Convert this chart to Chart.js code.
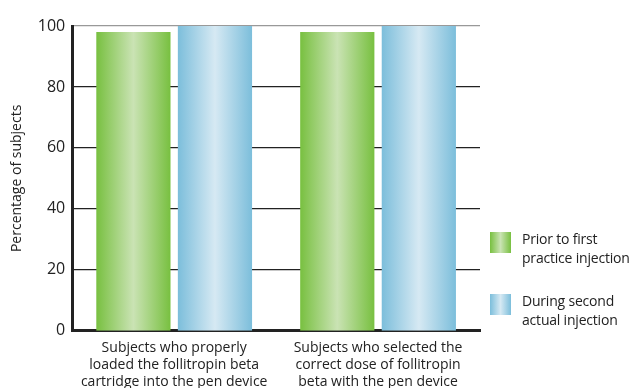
<!DOCTYPE html>
<html>
<head>
<meta charset="utf-8">
<script src="https://cdn.jsdelivr.net/npm/chart.js@4"></script>
<style>
  html, body { margin: 0; padding: 0; background: #fff; }
  #wrap { position: relative; width: 633px; height: 388px; }
  #legend { position: absolute; left: 490px; top: 229px; font-family: "Open Sans", sans-serif; font-size: 14px; color: #222; line-height: 19px; white-space: nowrap; letter-spacing: -0.2px; }
  .item { position: relative; padding-left: 32px; height: 40px; margin-bottom: 22px; }
  .swatch { position: absolute; left: 0; top: 3px; width: 21px; height: 21px; }
</style>
</head>
<body>
<div id="wrap">
  <canvas id="chart" width="633" height="388"></canvas>
  <div id="legend"></div>
</div>
<script>
// Data
const categories = [
  ['Subjects who properly', 'loaded the follitropin beta', 'cartridge into the pen device'],
  ['Subjects who selected the', 'correct dose of follitropin', 'beta with the pen device']
];
const seriesNames = [['Prior to first', 'practice injection'], ['During second', 'actual injection']];
const priorValues = [98, 98];
const duringValues = [100, 100];
const yTicks = [0, 20, 40, 60, 80, 100];

// gradient colours: edge, centre
const palettes = [
  ['#78c040', '#cae3b4'],
  ['#7cbedb', '#d6e9f3']
];

function hGradient(ctx, x0, x1, pal) {
  const g = ctx.createLinearGradient(x0, 0, x1, 0);
  g.addColorStop(0, pal[0]);
  g.addColorStop(0.5, pal[1]);
  g.addColorStop(1, pal[0]);
  return g;
}

// build legend
const legend = document.getElementById('legend');
seriesNames.forEach(function (name, i) {
  const item = document.createElement('div');
  item.className = 'item';
  const sw = document.createElement('div');
  sw.className = 'swatch';
  sw.style.background = 'linear-gradient(to right,' + palettes[i][0] + ',' + palettes[i][1] + ',' + palettes[i][0] + ')';
  item.appendChild(sw);
  item.appendChild(document.createTextNode(name[0]));
  item.appendChild(document.createElement('br'));
  item.appendChild(document.createTextNode(name[1]));
  legend.appendChild(item);
});

// paint each bar with its own horizontal gradient (options objects are shared, so copy them)
const barGradient = {
  id: 'barGradient',
  beforeDatasetsDraw(chart) {
    chart.data.datasets.forEach(function (ds, i) {
      const meta = chart.getDatasetMeta(i);
      meta.data.forEach(function (bar) {
        const half = bar.width / 2;
        bar.options = Object.assign({}, bar.options, {
          backgroundColor: hGradient(chart.ctx, bar.x - half, bar.x + half, palettes[i])
        });
      });
    });
  }
};

const ctx = document.getElementById('chart').getContext('2d');
new Chart(ctx, {
  type: 'bar',
  data: {
    labels: categories,
    datasets: [
      { label: seriesNames[0].join(' '), data: priorValues, backgroundColor: palettes[0][0] },
      { label: seriesNames[1].join(' '), data: duringValues, backgroundColor: palettes[1][0] }
    ]
  },
  options: {
    responsive: false,
    animation: false,
    categoryPercentage: 0.8,
    barPercentage: 0.91,
    layout: { padding: { top: 26, right: 153, left: 4, bottom: -12 } },
    plugins: {
      legend: { display: false },
      tooltip: { enabled: false }
    },
    scales: {
      x: {
        grid: { display: false, drawTicks: false },
        border: { display: true, color: '#222', width: 3 },
        ticks: {
          color: '#222',
          padding: 9,
          maxRotation: 0,
          font: { family: 'Open Sans', size: 14, lineHeight: 1.22 }
        }
      },
      y: {
        min: 0,
        max: 100,
        afterBuildTicks(axis) {
          axis.ticks = yTicks.map(function (v) { return { value: v }; });
        },
        grid: {
          drawTicks: false,
          color: function (c) { return c.tick && c.tick.value === 100 ? '#999' : '#222'; },
          lineWidth: function (c) { return c.tick && c.tick.value === 0 ? 0 : 1.2; }
        },
        border: { display: true, color: '#222', width: 3 },
        ticks: {
          color: '#222',
          padding: 7,
          font: { family: 'Open Sans', size: 16 }
        },
        title: {
          display: true,
          text: 'Percentage of subjects',
          color: '#222',
          padding: { top: 5, bottom: 5 },
          font: { family: 'Open Sans', size: 14 }
        }
      }
    }
  },
  plugins: [barGradient]
});
</script>
</body>
</html>
